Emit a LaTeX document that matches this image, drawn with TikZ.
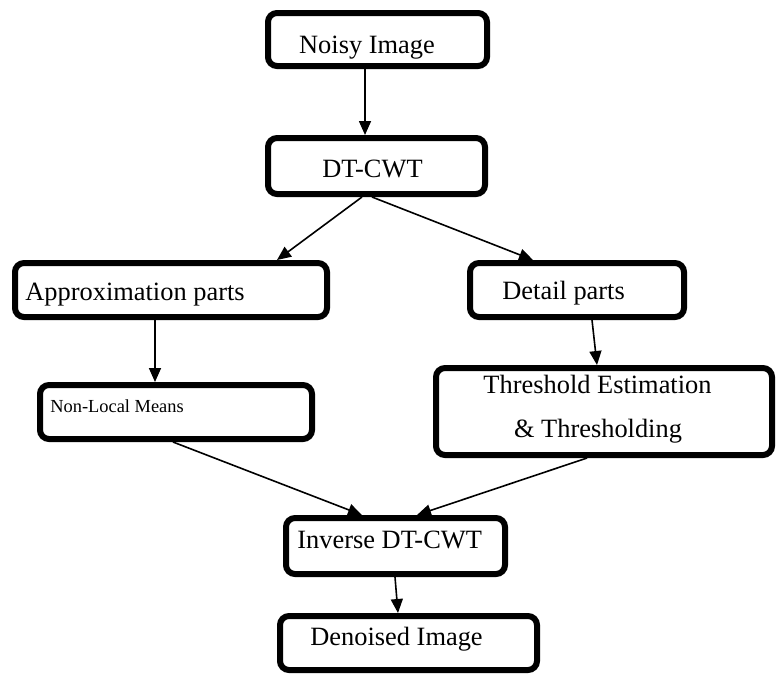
\documentclass[tikz,border=0pt]{standalone}
\usepackage{fontspec}
\setmainfont{Liberation Serif}
\usetikzlibrary{arrows.meta}
\begin{document}
\begin{tikzpicture}[x=0.5pt,y=-0.5pt,
  box/.style={draw, line width=3pt, rounded corners=4.5pt, inner sep=0pt},
  lbl/.style={font=\fontsize{13.2}{16}\selectfont, inner sep=0pt, anchor=base},
  lblw/.style={font=\fontsize{13.2}{16}\selectfont, inner sep=0pt, anchor=base west},
  small/.style={font=\fontsize{9.2}{11}\selectfont, inner sep=0pt, anchor=base west},
  arr/.style={-{Triangle[width=6pt,length=7pt]}, line width=0.8pt}]
\useasboundingbox (0,0) rectangle (776,676);
% boxes
\node[box, minimum width=109.5pt, minimum height=26.5pt] (n1) at (377.5,39.5) {};
\node[box, minimum width=108.5pt, minimum height=28pt] (n2) at (376.5,166) {};
\node[box, minimum width=156pt, minimum height=27pt] (n3) at (171,290) {};
\node[box, minimum width=107pt, minimum height=27pt] (n4) at (577,290) {};
\node[box, minimum width=136pt, minimum height=27pt] (n5) at (176,412) {};
\node[box, minimum width=168pt, minimum height=43.5pt] (n6) at (604,411.5) {};
\node[box, minimum width=109.5pt, minimum height=28pt] (n7) at (395.5,546) {};
\node[box, minimum width=128.5pt, minimum height=27pt] (n8) at (408.5,643) {};
% texts
\node[lbl] (t1) at (367,53) {Noisy Image};
\node[lbl] (t2) at (372.5,177) {DT-CWT};
\node[lblw] (t3) at (25,300) {Approximation parts};
\node[lblw] (t4) at (502,299) {Detail parts};
\node[small] (t5) at (50,412) {Non-Local Means};
\node[lbl] (t6a) at (597.5,393) {Threshold Estimation};
\node[lbl] (t6b) at (598,437) {\& Thresholding};
\node[lblw] (t7) at (297,548) {Inverse DT-CWT};
\node[lblw] (t8) at (310,645) {Denoised Image};
% arrows
\draw[arr] ([xshift=-6.25pt]n1.south) -- ([xshift=-5.75pt]n2.north);
\draw[arr] ([xshift=-7.25pt]n2.south) -- ([xshift=53pt]n3.north);
\draw[arr] ([xshift=-2.25pt]n2.south) -- ([xshift=-22pt]n4.north);
\draw[arr] ([xshift=-8pt]n3.south) -- ([xshift=-10.5pt]n5.north);
\draw[arr] ([xshift=7.5pt]n4.south) -- ([xshift=-3.5pt]n6.north);
\draw[arr] ([xshift=-1.5pt]n5.south) -- ([xshift=-16.75pt]n7.north);
\draw[arr] ([xshift=-8.5pt]n6.south) -- ([xshift=10.75pt]n7.north);
\draw[arr] ([xshift=-0.25pt]n7.south) -- ([xshift=-5.25pt]n8.north);
\end{tikzpicture}
\end{document}
